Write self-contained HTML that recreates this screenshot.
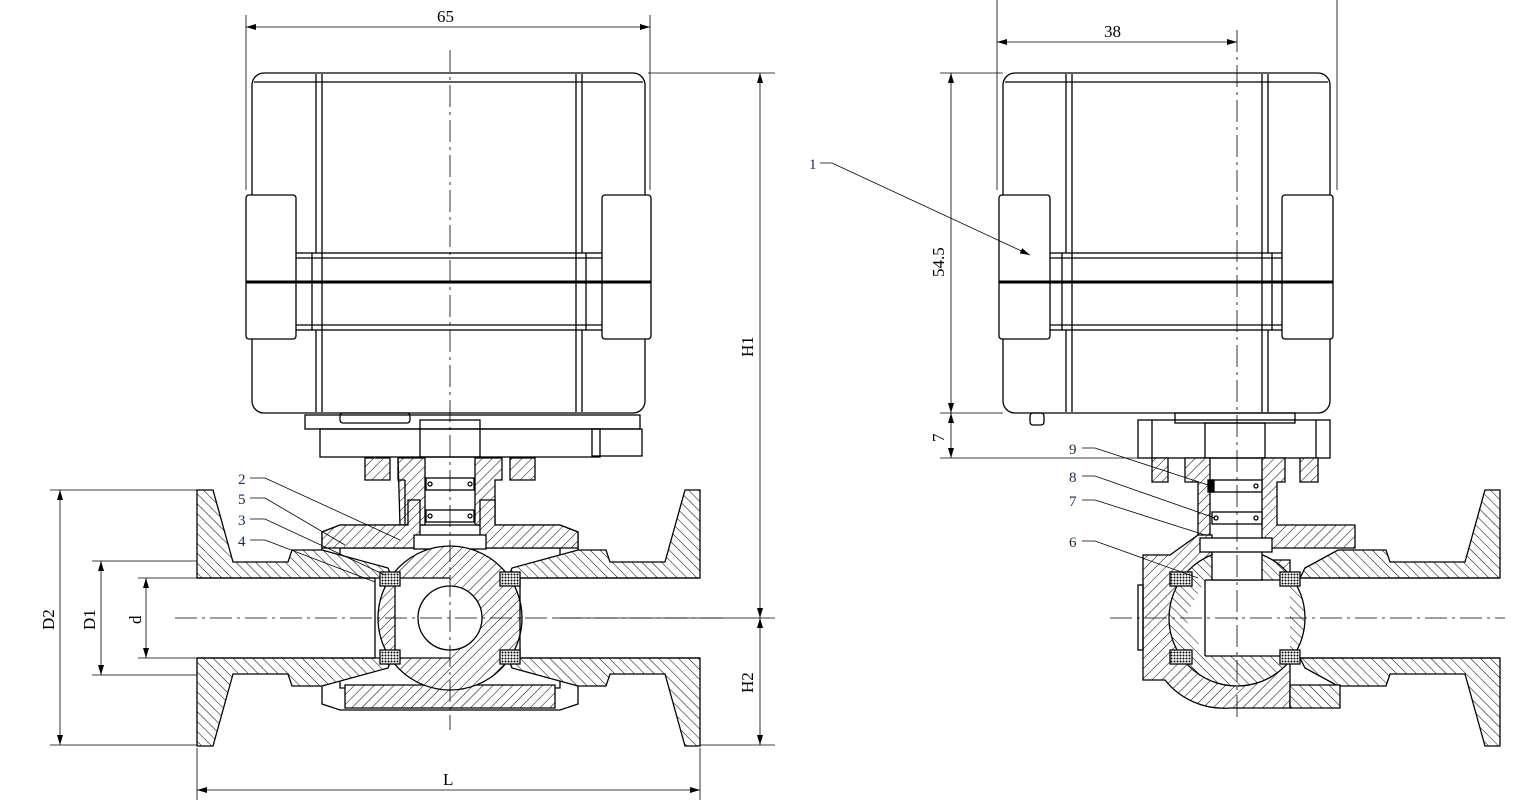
<!DOCTYPE html>
<html><head><meta charset="utf-8"><style>
html,body{margin:0;padding:0;background:#fff;}
svg{display:block;font-family:"Liberation Serif","Noto Serif CJK SC",serif;}
</style></head><body>
<svg width="1522" height="805" viewBox="0 0 1522 805" xmlns="http://www.w3.org/2000/svg">
<defs>
<pattern id="h" width="7" height="7" patternUnits="userSpaceOnUse" patternTransform="rotate(45)">
<rect width="7" height="7" fill="#fff"/><line x1="0" y1="0" x2="0" y2="7" stroke="#000" stroke-width="1"/></pattern>
<pattern id="h2" width="7" height="7" patternUnits="userSpaceOnUse" patternTransform="rotate(-45)">
<rect width="7" height="7" fill="#fff"/><line x1="0" y1="0" x2="0" y2="7" stroke="#000" stroke-width="1"/></pattern>
<pattern id="x" width="3" height="3" patternUnits="userSpaceOnUse">
<rect width="3" height="3" fill="#fff"/><circle cx="1.5" cy="1.5" r="1" fill="#000"/></pattern>
<marker id="a" markerWidth="10" markerHeight="6" refX="10" refY="3" orient="auto" markerUnits="userSpaceOnUse"><path d="M0,0 L10,3 L0,6 Z" fill="#000"/></marker>
<marker id="as" markerWidth="10" markerHeight="6" refX="0" refY="3" orient="auto" markerUnits="userSpaceOnUse"><path d="M10,0 L0,3 L10,6 Z" fill="#000"/></marker>
</defs>
<g fill="none" stroke="#000" stroke-width="1.3">
<!-- ===== LEFT ACTUATOR ===== -->
<rect x="252" y="73" width="393" height="340" rx="12"/>
<line x1="254" y1="82" x2="643" y2="82"/>
<line x1="316" y1="74" x2="316" y2="412"/><line x1="322" y1="74" x2="322" y2="412"/>
<line x1="576" y1="74" x2="576" y2="412"/><line x1="582" y1="74" x2="582" y2="412"/>
<rect x="295" y="253" width="308" height="77" fill="#fff"/>
<line x1="295" y1="258" x2="603" y2="258"/><line x1="295" y1="325" x2="603" y2="325"/>
<line x1="312" y1="253" x2="312" y2="330"/><line x1="322" y1="253" x2="322" y2="330"/>
<line x1="576" y1="253" x2="576" y2="330"/><line x1="586" y1="253" x2="586" y2="330"/>
<rect x="246" y="195" width="50" height="144" rx="3" fill="#fff"/>
<rect x="602" y="195" width="49" height="144" rx="3" fill="#fff"/>
<line x1="246" y1="282" x2="651" y2="282" stroke-width="3"/>
<!-- bracket -->
<rect x="305" y="415" width="335" height="14"/>
<rect x="320" y="429" width="280" height="28"/>
<rect x="592" y="429" width="50" height="27"/>
<rect x="420" y="420" width="60" height="37"/>
<rect x="340" y="413" width="70" height="10" rx="3"/>
<!-- neck -->
<path d="M365,458 H390 V480 H365 Z" fill="url(#h)"/>
<path d="M510,458 H535 V480 H510 Z" fill="url(#h)"/>
<path d="M398,458 H425 V525 H400 Z M405,480 V525" fill="url(#h)"/>
<path d="M475,458 H502 V480 H495 V525 H475 Z" fill="url(#h)"/>
<path d="M405,480 H398 V458" />
<!-- body nuts (outline) -->
<path d="M322,532 L340,525 H560 L578,532 V560 H560 V548 H340 V560 H322 Z"/>
<path d="M322,704 L340,710 H560 L578,704 V676 H560 V688 H340 V676 H322 Z"/>
<path d="M322,532 L340,525 L408,525 L408,500 L420,500 L420,540 L480,540 L480,500 L495,500 L495,525 L560,525 L578,532 L578,548 L322,548 Z" fill="url(#h)"/>
<rect x="425" y="540" width="50" height="33" fill="#fff"/>
<rect x="414" y="535" width="72" height="14" fill="#fff"/>
<rect x="426" y="478" width="48" height="12" fill="#fff"/><circle cx="430" cy="484" r="2"/><circle cx="470" cy="484" r="2"/>
<rect x="426" y="510" width="48" height="12" fill="#fff"/><circle cx="430" cy="516" r="2"/><circle cx="470" cy="516" r="2"/>
<!-- body left -->
<path d="M197,490 H213 L233,562 H288 L292,550 H322 L388,568 L392,578 H197 Z" fill="url(#h2)"/>
<path d="M197,746 H213 L233,674 H288 L292,686 H322 L388,668 L392,658 H197 Z" fill="url(#h2)"/>
<path d="M700,490 H685 L665,562 H610 L606,550 H578 L512,568 L508,578 H700 Z" fill="url(#h2)"/>
<path d="M700,746 H685 L665,674 H610 L606,686 H578 L512,668 L508,658 H700 Z" fill="url(#h2)"/>
<path d="M345,685 H555 V708 H345 Z" fill="url(#h)"/>
<!-- ball -->
<circle cx="450" cy="618" r="72" fill="url(#h)"/>
<path d="M395,578 H450 V658 H395 Z" fill="#fff" stroke="none"/>
<line x1="395" y1="578" x2="450" y2="578"/><line x1="395" y1="658" x2="450" y2="658"/>
<circle cx="450" cy="618" r="32" fill="#fff"/>
<line x1="375" y1="578" x2="375" y2="658"/><line x1="395" y1="578" x2="395" y2="658"/><line x1="520" y1="578" x2="520" y2="658"/>
<rect x="380" y="572" width="20" height="14" fill="url(#x)"/>
<rect x="380" y="650" width="20" height="14" fill="url(#x)"/>
<rect x="500" y="572" width="20" height="14" fill="url(#x)"/>
<rect x="500" y="650" width="20" height="14" fill="url(#x)"/>
<line x1="197" y1="578" x2="375" y2="578"/><line x1="197" y1="658" x2="375" y2="658"/>
<line x1="520" y1="578" x2="700" y2="578"/><line x1="520" y1="658" x2="700" y2="658"/>

<!-- ===== RIGHT ACTUATOR ===== -->
<rect x="1003" y="73" width="327" height="340" rx="12"/>
<line x1="1005" y1="82" x2="1328" y2="82"/>
<line x1="1066" y1="74" x2="1066" y2="412"/><line x1="1072" y1="74" x2="1072" y2="412"/>
<line x1="1262" y1="74" x2="1262" y2="412"/><line x1="1268" y1="74" x2="1268" y2="412"/>
<rect x="1049" y="253" width="234" height="77" fill="#fff"/>
<line x1="1049" y1="258" x2="1283" y2="258"/><line x1="1049" y1="325" x2="1283" y2="325"/>
<line x1="1062" y1="253" x2="1062" y2="330"/><line x1="1072" y1="253" x2="1072" y2="330"/>
<line x1="1262" y1="253" x2="1262" y2="330"/><line x1="1272" y1="253" x2="1272" y2="330"/>
<rect x="999" y="195" width="51" height="144" rx="3" fill="#fff"/>
<rect x="1282" y="195" width="51" height="144" rx="3" fill="#fff"/>
<line x1="999" y1="282" x2="1333" y2="282" stroke-width="3"/>
<rect x="1030" y="413" width="14" height="12" rx="3"/>
<rect x="1138" y="420" width="192" height="38"/>
<rect x="1175" y="413" width="120" height="10"/>
<rect x="1205" y="423" width="60" height="35"/>
<line x1="1152" y1="420" x2="1152" y2="458"/><line x1="1316" y1="420" x2="1316" y2="458"/>
<path d="M1152,458 H1168 V482 H1152 Z" fill="url(#h)"/>
<path d="M1300,458 H1318 V482 H1300 Z" fill="url(#h)"/>
<path d="M1185,458 H1210 V540 H1198 V482 H1185 Z" fill="url(#h)"/>
<path d="M1262,458 H1285 V482 H1277 V525 H1355 V548 H1270 V540 H1262 Z" fill="url(#h)"/>
<path d="M1143,555 H1170 L1198,535 H1212 V560 H1290 V708 H1230 A75 75 0 0 1 1165 680 H1143 Z" fill="url(#h)"/>
<rect x="1138" y="585" width="5" height="65"/>
<circle cx="1237" cy="618" r="68" fill="url(#h2)"/>
<path d="M1205,580 H1290 V656 H1205 L1185,618 Z" fill="#fff" stroke="none"/>
<line x1="1205" y1="580" x2="1290" y2="580"/><line x1="1205" y1="656" x2="1290" y2="656"/>
<line x1="1205" y1="580" x2="1205" y2="656"/>
<rect x="1212" y="545" width="50" height="35" fill="#fff"/>
<rect x="1200" y="538" width="72" height="14" fill="#fff"/>
<rect x="1212" y="480" width="50" height="12" fill="#fff"/><rect x="1208" y="480" width="6" height="12" fill="#000"/><circle cx="1256" cy="486" r="2"/>
<rect x="1212" y="512" width="50" height="12" fill="#fff"/><circle cx="1216" cy="518" r="2"/><circle cx="1256" cy="518" r="2"/>
<rect x="1170" y="572" width="22" height="14" fill="url(#x)"/>
<rect x="1170" y="650" width="22" height="14" fill="url(#x)"/>
<rect x="1280" y="572" width="20" height="14" fill="url(#x)"/>
<rect x="1280" y="650" width="20" height="14" fill="url(#x)"/>
<path d="M1500,490 H1485 L1465,562 H1390 L1386,550 H1338 L1305,568 L1300,578 H1500 Z" fill="url(#h2)"/>
<path d="M1500,746 H1485 L1465,674 H1390 L1386,686 H1338 L1305,668 L1300,658 H1500 Z" fill="url(#h2)"/>
<path d="M1290,685 H1340 V708 H1290 Z" fill="url(#h2)"/>
<line x1="1300" y1="578" x2="1500" y2="578"/><line x1="1300" y1="658" x2="1500" y2="658"/>
</g>

<!-- center lines -->
<g stroke="#000" stroke-width="0.8" stroke-dasharray="22,5,3,5" fill="none">
<line x1="450" y1="50" x2="450" y2="730"/>
<line x1="175" y1="618" x2="725" y2="618"/>
<line x1="1237" y1="30" x2="1237" y2="720"/>
<line x1="1110" y1="618" x2="1505" y2="618"/>
</g>

<!-- dimensions -->
<g stroke="#000" stroke-width="0.8" fill="none">
<line x1="246" y1="15" x2="246" y2="190"/><line x1="650" y1="15" x2="650" y2="190"/>
<line x1="246" y1="27" x2="650" y2="27" marker-start="url(#as)" marker-end="url(#a)"/>
<line x1="648" y1="73" x2="775" y2="73"/><line x1="555" y1="618" x2="775" y2="618"/><line x1="700" y1="745" x2="775" y2="745"/>
<line x1="760" y1="73" x2="760" y2="618" marker-start="url(#as)" marker-end="url(#a)"/>
<line x1="760" y1="618" x2="760" y2="745" marker-start="url(#as)" marker-end="url(#a)"/>
<line x1="50" y1="490" x2="197" y2="490"/><line x1="50" y1="745" x2="197" y2="745"/>
<line x1="60" y1="490" x2="60" y2="745" marker-start="url(#as)" marker-end="url(#a)"/>
<line x1="92" y1="561" x2="197" y2="561"/><line x1="92" y1="675" x2="197" y2="675"/>
<line x1="101" y1="561" x2="101" y2="675" marker-start="url(#as)" marker-end="url(#a)"/>
<line x1="138" y1="578" x2="197" y2="578"/><line x1="138" y1="658" x2="197" y2="658"/>
<line x1="146" y1="578" x2="146" y2="658" marker-start="url(#as)" marker-end="url(#a)"/>
<line x1="197" y1="748" x2="197" y2="800"/><line x1="700" y1="748" x2="700" y2="800"/>
<line x1="197" y1="790" x2="700" y2="790" marker-start="url(#as)" marker-end="url(#a)"/>
<line x1="997" y1="0" x2="997" y2="190"/><line x1="1337" y1="0" x2="1337" y2="190"/>
<line x1="997" y1="42" x2="1237" y2="42" marker-start="url(#as)" marker-end="url(#a)"/>
<line x1="940" y1="73" x2="1003" y2="73"/><line x1="940" y1="413" x2="1003" y2="413"/><line x1="940" y1="458" x2="1138" y2="458"/>
<line x1="951" y1="73" x2="951" y2="413" marker-start="url(#as)" marker-end="url(#a)"/>
<line x1="951" y1="413" x2="951" y2="458" marker-start="url(#as)" marker-end="url(#a)"/>
<!-- leaders -->
<polyline points="250,478 265,478 400,540"/>
<polyline points="250,498 265,498 345,545"/>
<polyline points="250,519 265,519 385,575"/>
<polyline points="250,540 265,540 375,582"/>
<polyline points="820,163 832,163 1030,255" marker-end="url(#a)"/>
<polyline points="1082,448 1095,448 1208,485"/>
<polyline points="1082,476 1095,476 1215,518"/>
<polyline points="1082,500 1095,500 1205,535"/>
<polyline points="1082,541 1095,541 1198,578"/>
</g>

<g fill="#000" font-size="17">
<text x="437" y="22">65</text>
<text x="1104" y="37">38</text>
<text x="443" y="785">L</text>
<text transform="translate(753,357) rotate(-90)">H1</text>
<text transform="translate(753,693) rotate(-90)">H2</text>
<text transform="translate(54,630) rotate(-90)">D2</text>
<text transform="translate(95,630) rotate(-90)">D1</text>
<text transform="translate(141,624) rotate(-90)">d</text>
<text transform="translate(944,277) rotate(-90)">54.5</text>
<text transform="translate(944,442) rotate(-90)">7</text>
</g>
<g fill="#1a2a4a" font-size="15">
<text x="238" y="484">2</text><text x="238" y="504">5</text><text x="238" y="525">3</text><text x="238" y="546">4</text>
<text x="809" y="169">1</text>
<text x="1069" y="454">9</text><text x="1069" y="482">8</text><text x="1069" y="506">7</text><text x="1069" y="547">6</text>
</g>
</svg>
</body></html>
